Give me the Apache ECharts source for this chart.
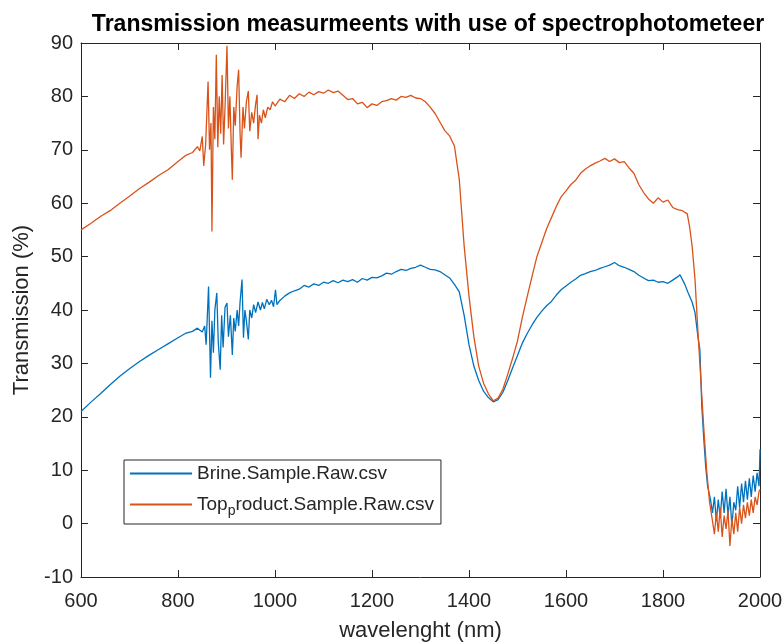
<!DOCTYPE html>
<html>
<head>
    <meta charset="UTF-8">
    <title>Transmission</title>
</head>
<style>
    html,body{margin:0;padding:0;background:#fff;}
    #chart{width:783px;height:642px;}
</style>
<body>
<div id="chart"></div>
<script type="text/javascript" src="https://cdn.jsdelivr.net/npm/echarts@6/dist/echarts.min.js"></script>
<script>
    // wavelength (nm) and transmission (%)
    var brineX = [600,620,640,660,680,700,720,740,760,780,800,815,830,840,850,855,858,863,867,870,873,876,880,883,887,890,893,897,901,904,908,912,915,918,922,925,928,932,935,938,941,945,948,952,956,960,965,970,974,978,983,988,993,997,1001,1004,
        1010,1020,1030,1040,1050,1060,1070,1080,1090,1100,1110,1120,1130,1140,1150,1160,1170,1180,1190,1200,1210,1220,1230,1240,1250,1260,1270,1280,1290,1300,1310,1320,1330,1340,1350,1360,1370,1380,1390,1400,1410,1420,1430,1440,1450,1460,1470,1480,1490,1500,
        1510,1520,1530,1540,1550,1560,1570,1580,1590,1600,1610,1620,1630,1640,1650,1660,1670,1680,1690,1700,1710,1720,1730,1740,1750,1760,1770,1780,1790,1800,1810,1820,1830,1835,1845,1852,1860,1866,1872,1876,1880,1884,1888,1892,1898,
        1902,1906,1910,1914,1918,1922,1926,1930,1934,1938,1942,1946,1950,1954,1958,1962,1966,1970,1974,1978,1982,1986,1990,1994,1998,2000];
    var brineY = [21.0,22.7,24.3,26.0,27.6,29.0,30.3,31.5,32.6,33.7,34.8,35.6,36.0,36.6,35.9,37.0,33.5,44.4,27.3,38.0,32.0,40.0,43.2,34.0,28.8,39.0,33.0,40.5,41.3,35.0,39.0,31.6,38.5,36.0,40.0,37.0,41.5,45.7,34.8,40.0,38.0,34.5,40.0,38.5,41.0,39.5,41.5,40.0,41.4,40.2,42.0,41.0,41.8,40.6,43.8,41.0,
        41.8,42.6,43.2,43.6,43.9,44.6,44.3,44.9,44.6,45.2,45.0,45.5,45.1,45.6,45.3,45.7,45.2,45.9,45.6,46.1,46.0,46.4,46.9,46.7,47.2,47.6,47.4,47.8,48.0,48.4,48.0,47.6,47.5,47.2,46.6,46.0,44.8,43.4,39.0,33.5,29.5,26.8,24.8,23.6,22.8,23.2,24.6,26.8,29.2,31.5,
        33.8,35.6,37.2,38.6,39.8,40.8,41.6,42.8,43.8,44.5,45.2,45.8,46.5,46.8,47.2,47.4,47.8,48.1,48.4,48.9,48.3,48.0,47.6,47.2,46.5,46.0,45.5,45.6,45.2,45.3,45.0,45.6,46.2,46.6,44.8,43.2,41.5,39.5,35.0,32.6,22.0,16.0,10.7,7.0,4.5,
        2.0,5.0,0.5,4.5,1.0,6.0,2.0,6.5,1.5,5.0,-0.5,4.0,2.5,7.0,3.0,7.5,4.0,8.0,4.5,8.5,5.0,9.0,6.0,9.5,7.0,13.9];

    var topX = [600,620,640,660,680,700,720,740,760,780,800,815,830,840,845,850,853,857,862,865,868,870,873,876,879,882,885,888,891,894,897,901,904,907,910,912,915,918,922,925,928,930,934,937,941,945,948,952,956,960,963,965,968,972,976,980,985,990,995,1000,
        1010,1020,1030,1040,1050,1060,1070,1080,1090,1100,1110,1120,1130,1140,1150,1160,1170,1180,1190,1200,1210,1220,1230,1240,1250,1260,1270,1280,1290,1300,1310,1320,1330,1340,1350,1360,1370,1380,1390,1400,1410,1420,1430,1440,1450,1460,1470,1480,1490,1500,
        1510,1520,1530,1540,1550,1560,1570,1580,1590,1600,1610,1620,1630,1640,1650,1660,1670,1680,1690,1700,1710,1720,1730,1740,1750,1760,1770,1780,1790,1800,1810,1820,1830,1840,1850,1855,1860,1866,1872,1878,1884,1890,1896,
        1902,1906,1910,1914,1918,1922,1926,1930,1934,1938,1942,1946,1950,1954,1958,1962,1966,1970,1974,1978,1982,1986,1990,1994,1998,2000];
    var topY = [55.0,56.2,57.5,58.6,60.0,61.3,62.7,63.9,65.2,66.3,67.8,68.9,69.5,70.6,69.8,72.5,67.0,71.0,82.8,70.0,75.0,54.7,78.0,72.0,87.8,70.5,80.0,73.0,84.0,71.0,78.0,89.5,74.0,80.0,70.0,64.4,78.0,74.5,82.0,85.0,73.0,68.5,78.0,74.0,79.0,81.0,73.5,77.0,75.0,78.5,80.3,72.0,76.5,75.0,77.5,76.0,78.0,77.5,79.0,78.2,
        79.5,79.0,80.2,79.6,80.5,80.0,80.8,80.3,80.9,80.6,81.2,80.7,81.0,80.2,79.4,79.6,78.6,78.9,77.9,78.6,78.3,79.0,79.2,79.6,79.3,80.0,79.8,80.2,79.7,79.6,79.0,78.0,76.8,75.2,73.6,72.6,70.7,64.4,52.0,42.6,35.0,29.5,26.3,24.3,23.0,23.5,25.2,28.0,31.0,34.2,
        38.6,42.5,46.3,50.0,52.6,55.2,57.3,59.4,61.2,62.3,63.5,64.3,65.6,66.4,67.0,67.5,67.9,68.4,67.8,68.3,67.6,67.8,66.6,65.6,63.5,62.0,60.8,60.0,61.0,60.2,60.6,59.2,58.8,58.6,58.0,55.5,52.0,45.7,36.0,27.0,18.0,10.0,4.0,
        0.5,-2.0,2.0,-1.5,3.0,-2.5,1.5,-1.0,2.5,-4.2,1.0,-2.0,2.0,-1.5,3.0,0.0,3.5,1.0,4.0,1.5,4.5,2.0,5.0,3.5,6.0,6.4];

    var seriesNames = ['Brine.Sample.Raw.csv', 'Top_product.Sample.Raw.csv'];
    var xTicks = {min: 600, max: 2000, step: 200};
    var yTicks = {min: -10, max: 90, step: 10};

    function pairs(xs, ys) {
        var out = [];
        for (var i = 0; i < xs.length; i++) out.push([xs[i], ys[i]]);
        return out;
    }

    var font = 'Liberation Sans, Arial, sans-serif';
    var ink = '#262626';
    var grid = {left: 81, right: 23, top: 43, bottom: 65, containLabel: false, outerBoundsMode: 'none'};

    function axisBase(show) {
        return {
            axisLine: {show: true, onZero: false, lineStyle: {color: ink, width: 1}},
            axisTick: {show: true, inside: true, length: 7, lineStyle: {color: ink}},
            splitLine: {show: false},
            axisLabel: {show: show, color: ink, fontSize: 20, fontFamily: font}
        };
    }

    var ele = document.getElementById('chart');
    var draw = echarts.init(ele);
    var option = {
        animation: false,
        backgroundColor: '#fff',
        title: {
            text: 'Transmission measurmeents with use of spectrophotometeer',
            left: 423, top: 8, textAlign: 'center',
            textStyle: {fontSize: 23, fontWeight: 'bold', color: '#000', fontFamily: font}
        },
        grid: grid,
        legend: {
            orient: 'vertical',
            left: 124, top: 460,
            data: seriesNames,
            icon: 'rect',
            itemWidth: 62, itemHeight: 2,
            itemGap: 12,
            padding: [4, 7, 6, 6],
            borderColor: ink, borderWidth: 1,
            backgroundColor: '#fff',
            textStyle: {
                fontSize: 19, color: ink, fontFamily: font,
                rich: {
                    a: {fontSize: 19, color: ink, fontFamily: font},
                    s: {fontSize: 14, color: ink, fontFamily: font, padding: [13, 0, 0, 0]}
                }
            },
            formatter: function (name) {
                var k = name.indexOf('_');
                if (k < 0) return name;
                return '{a|' + name.slice(0, k) + '}{s|' + name.charAt(k + 1) + '}{a|' + name.slice(k + 2) + '}';
            }
        },
        xAxis: [
            Object.assign(axisBase(true), {
                type: 'value', position: 'bottom',
                min: xTicks.min, max: xTicks.max, interval: xTicks.step,
                name: 'wavelenght (nm)', nameLocation: 'middle', nameGap: 43,
                nameTextStyle: {fontSize: 22, color: ink, fontFamily: font},
                axisLabel: {color: ink, fontSize: 20, fontFamily: font, margin: 14,
                    formatter: function (v) { return String(v); }}
            }),
            Object.assign(axisBase(false), {
                type: 'value', position: 'top',
                min: xTicks.min, max: xTicks.max, interval: xTicks.step
            })
        ],
        yAxis: [
            Object.assign(axisBase(true), {
                type: 'value', position: 'left',
                min: yTicks.min, max: yTicks.max, interval: yTicks.step,
                name: 'Transmission (%)', nameLocation: 'middle', nameGap: 48,
                nameTextStyle: {fontSize: 22, color: ink, fontFamily: font},
                axisLabel: {color: ink, fontSize: 20, fontFamily: font, margin: 8}
            }),
            Object.assign(axisBase(false), {
                type: 'value', position: 'right',
                min: yTicks.min, max: yTicks.max, interval: yTicks.step
            })
        ],
        series: [
            {
                name: seriesNames[0], type: 'line', showSymbol: false,
                data: pairs(brineX, brineY),
                color: '#0072BD',
                lineStyle: {width: 1.3, color: '#0072BD'}
            },
            {
                name: seriesNames[1], type: 'line', showSymbol: false,
                data: pairs(topX, topY),
                color: '#D95319',
                lineStyle: {width: 1.3, color: '#D95319'}
            }
        ]
    };
    draw.setOption(option);
</script>
</body>
</html>
